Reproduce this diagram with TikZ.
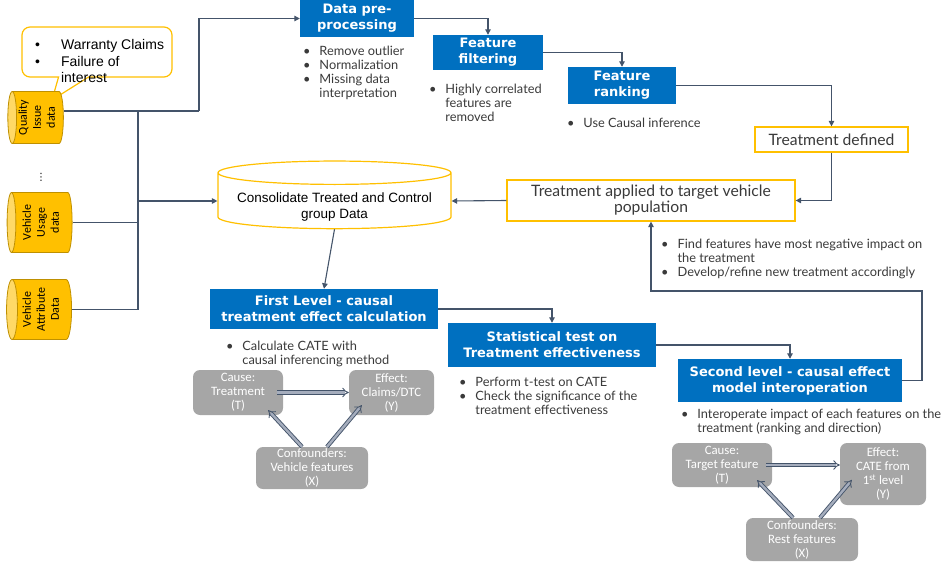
\documentclass[tikz,border=0pt]{standalone}
\usepackage{fontspec}
\setmainfont{Lato}
\newfontfamily\titlefont{DejaVu Sans}
\newfontfamily\arialfont{Liberation Sans}
\newfontfamily\calibrifont{Carlito}
\usepackage{graphicx}
\usetikzlibrary{positioning, shapes.geometric, shapes.callouts, arrows.meta}

\definecolor{stageblue}{HTML}{0070C0}
\definecolor{linegray}{HTML}{44546A}
\definecolor{gold}{HTML}{FFC000}
\definecolor{golddark}{HTML}{BF9000}
\definecolor{goldlight}{HTML}{FFD966}
\definecolor{boxgray}{HTML}{A6A6A6}
\definecolor{arrowfill}{HTML}{A5ADBD}
\definecolor{notegray}{HTML}{3A3A3A}

\newcommand{\notelist}[1]{\begin{tabular}{@{}l@{\hspace{9pt}}l@{}}#1\end{tabular}}

\tikzset{
	stage/.style={fill=stageblue, text=white, align=center, inner sep=0pt,
		font=\titlefont\bfseries\fontsize{13}{16}\selectfont},
	outbox/.style={draw=gold, line width=1.2pt, fill=white, align=center, inner sep=0pt,
		text=notegray, font=\fontsize{15.7}{16}\selectfont},
	note/.style={inner sep=0pt, text=notegray, font=\fontsize{12.8}{14}\selectfont},
	wire/.style={draw=linegray, line width=1.1pt},
	link/.style={wire, -{Triangle[length=5.5pt, width=5.5pt]}},
	store/.style={cylinder, shape border rotate=180, aspect=0.25, draw=golddark, line width=0.8pt,
		cylinder uses custom fill, cylinder body fill=gold, cylinder end fill=goldlight,
		inner sep=0pt, font=\calibrifont\fontsize{12}{14}\selectfont},
	pool/.style={cylinder, shape border rotate=90, aspect=0.12, draw=gold, line width=1.2pt, fill=white,
		align=center, inner sep=0pt, font=\arialfont\fontsize{13.5}{16}\selectfont},
	factor/.style={fill=boxgray, rounded corners=7pt, text=white, align=center, inner sep=0pt,
		font=\calibrifont\fontsize{12.8}{14}\selectfont},
	causal/.style={draw=linegray, double=arrowfill, double distance=2.4pt, line width=0.9pt, -{Implies}},
}

\begin{document}
\begin{tikzpicture}[x=1pt, y=-1pt]
	\useasboundingbox (0,0) rectangle (941,567);

	% Sources:
	\node[rectangle callout, draw=gold, line width=1.2pt, fill=white, rounded corners=8pt,
		minimum width=150pt, minimum height=50pt, inner sep=0pt,
		callout absolute pointer={(52,100)}, callout pointer width=30pt] (claim) at (97,52) {};
	\node[anchor=north west, inner sep=0pt, font=\arialfont\fontsize{14}{16.5}\selectfont] (claimText) at (35,38)
		{\begin{tabular}{@{}l@{\hspace{21pt}}l@{}}\textbullet & Warranty Claims\\ \textbullet & Failure of\\ & interest\end{tabular}};
	\node[store, minimum width=52pt, minimum height=55pt] (qual) at (38,117.5)
		{\rotatebox{90}{\begin{tabular}{@{}c@{}}Quality\\Issue\\data\end{tabular}}};
	\node[font=\titlefont\fontsize{10}{10}\selectfont, inner sep=0pt] (dots) at (41,177) {⋮};
	\node[store, minimum width=60pt, minimum height=65pt] (usage) at (42,222.5)
		{\rotatebox{90}{\begin{tabular}{@{}c@{}}Vehicle\\Usage\\data\end{tabular}}};
	\node[store, minimum width=60pt, minimum height=65pt] (attr) at (42,309.5)
		{\rotatebox{90}{\begin{tabular}{@{}c@{}}Vehicle\\Attribute\\Data\end{tabular}}};
	\node[pool, minimum width=233pt, minimum height=62pt] (cons) at (334.5,201)
		{\raisebox{-6pt}[\height][\depth]{\begin{tabular}{@{}c@{}}Consolidate Treated and Control\\group Data\end{tabular}}};

	% Stages:
	\node[stage, minimum width=114pt, minimum height=37pt] (pre) at (357,18.5) {Data pre-\\processing};
	\node[stage, minimum width=110pt, minimum height=35pt] (filt) at (488,52.5) {Feature\\filtering};
	\node[stage, minimum width=108pt, minimum height=37pt] (rank) at (622,85.5) {Feature\\ranking};
	\node[outbox, minimum width=153pt, minimum height=25pt] (tdef) at (831.5,139.5) {Treatment defined};
	\node[outbox, minimum width=288pt, minimum height=41pt] (tapp) at (651,200.5) {Treatment applied to target vehicle\\population};
	\node[stage, minimum width=228pt, minimum height=40pt] (first) at (324,309) {First Level - causal\\treatment effect calculation};
	\node[stage, minimum width=208pt, minimum height=44pt] (stat) at (552,345) {Statistical test on\\Treatment effectiveness};
	\node[stage, minimum width=224pt, minimum height=43pt] (second) at (790,380.5) {Second level - causal effect\\model interoperation};

	% Notes:
	\node[note, below=8pt of pre.south west, anchor=north west, xshift=3pt] (preNote)
		{\notelist{\textbullet & Remove outlier\\ \textbullet & Normalization\\ \textbullet & Missing data\\ & interpretation}};
	\node[note, below=13pt of filt.south west, anchor=north west, xshift=-4pt] (filtNote)
		{\notelist{\textbullet & Highly correlated\\ & features are\\ & removed}};
	\node[note, below=13pt of rank.south west, anchor=north west, xshift=-1pt] (rankNote)
		{\notelist{\textbullet & Use Causal inference}};
	\node[note, below=17pt of tapp.south, anchor=north west, xshift=10pt] (tappNote)
		{\notelist{\textbullet & Find features have most negative impact on\\ & the treatment\\ \textbullet & Develop/refine new treatment accordingly}};
	\node[note, below=11pt of first.south west, anchor=north west, xshift=16pt] (firstNote)
		{\notelist{\textbullet & Calculate CATE with\\ & causal inferencing method}};
	\node[note, below=9pt of stat.south west, anchor=north west, xshift=11pt] (statNote)
		{\notelist{\textbullet & Perform t-test on CATE\\ \textbullet & Check the significance of the\\ & treatment effectiveness}};
	\node[note, below=6pt of second.south west, anchor=north west, xshift=3pt] (secondNote)
		{\notelist{\textbullet & Interoperate impact of each features on the\\ & treatment (ranking and direction)}};

	% Causal graphs:
	\node[factor, minimum width=90pt, minimum height=45pt] (cause1) at (238,392.5) {Cause:\\Treatment\\(T)};
	\node[factor, minimum width=85pt, minimum height=45pt] (effect1) at (391.5,392.5) {Effect:\\Claims/DTC\\(Y)};
	\node[factor, minimum width=112pt, minimum height=42pt] (conf1) at (312,468) {Confounders:\\Vehicle features\\(X)};
	\node[factor, minimum width=100pt, minimum height=44pt] (cause2) at (722,465) {Cause:\\Target feature\\(T)};
	\node[factor, minimum width=86pt, minimum height=62pt] (effect2) at (883,474) {Effect:\\CATE from\\1\textsuperscript{st} level\\(Y)};
	\node[factor, minimum width=112pt, minimum height=43pt] (conf2) at (802,539.5) {Confounders:\\Rest features\\(X)};

	\draw[causal] ([xshift=-6pt]cause1.east) -- (effect1.west);
	\draw[causal] ([xshift=-10pt]conf1.north) -- ([shift={(-15,-5)}]cause1.south east);
	\draw[causal] ([xshift=15pt]conf1.north) -- ([shift={(13,-10)}]effect1.south west);
	\draw[causal] ([xshift=-6pt]cause2.east) -- (cause2.east -| effect2.west);
	\draw[causal] ([xshift=-9pt]conf2.north) -- ([shift={(-15,-7)}]cause2.south east);
	\draw[causal] ([xshift=18pt]conf2.north) -- ([shift={(12,6)}]effect2.west);

	% Lines:
	\coordinate (qOut) at ([yshift=6.5pt]qual.east);
	\coordinate (qTurn) at (199,111);
	\coordinate (busTop) at (138,111);
	\coordinate (busBot) at (138,309.5);
	\coordinate (fbCorner) at (922,291);

	\draw[wire] (qOut) -- (qTurn);
	\draw[link] (qTurn) |- (pre.west);
	\draw[wire] (busTop) -- (busBot);
	\draw[wire] (usage.east) -- (usage.east -| busTop);
	\draw[wire] (attr.east) -- (attr.east -| busTop);
	\draw[link] (busTop |- cons.west) -- (cons.west);
	\draw[link] (pre.east) -| (filt.north);
	\draw[link] (filt.east) -| (rank.north);
	\draw[link] (rank.east) -| (tdef.north);
	\draw[link] (tdef.south) |- (tapp.east);
	\draw[link] (tapp.west) -- (cons.east);
	\draw[link] (cons.south) -- (first.north);
	\draw[link] (first.east) -| (stat.north);
	\draw[link] (stat.east) -| (second.north);
	\draw[link] (second.east) -| (fbCorner) -| (tapp.south);

\end{tikzpicture}
\end{document}
